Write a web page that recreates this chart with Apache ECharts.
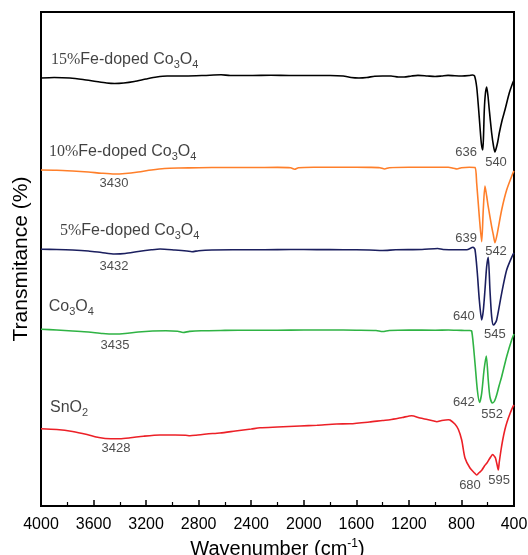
<!DOCTYPE html>
<html><head><meta charset="utf-8">
<script src="https://cdn.jsdelivr.net/npm/echarts/dist/echarts.min.js"></script>
<style>html,body{margin:0;padding:0;background:#fff}#c{width:528px;height:555px}</style>
</head><body><div id="c"></div>
<script>
// Wavenumber axis ticks
const xTicks = [4000, 3600, 3200, 2800, 2400, 2000, 1600, 1200, 800, 400];
// Series names
const seriesNames = ['15%Fe-doped Co3O4', '10%Fe-doped Co3O4', '5%Fe-doped Co3O4', 'Co3O4', 'SnO2'];
const seriesColors = ['#000000', '#ff7f2a', '#1b1f5f', '#2fb344', '#ec2027'];

// Offset transmittance [wavenumber, value]
const fe15 = [[4000,428],[3900,428.5],[3780,428],[3680,426.5],[3580,424.5],[3500,423],[3440,422.5],[3370,423],[3290,424.5],[3200,427],[3120,429],[3040,430],[2900,430],[2760,430.5],[2630,431.2],[2560,430.5],[2400,430.5],[2250,430.8],[2100,430.5],[1950,430.5],[1800,430.5],[1700,430],[1640,428.5],[1580,428],[1520,428.5],[1460,429.8],[1400,430],[1336,430],[1280,429],[1237,429],[1180,430],[1131,430.6],[1060,430],[1001,429.5],[950,430],[902,430.6],[850,430.2],[796,430],[740,430.5],[715,431],[700,430],[684,419],[670,398],[659,379],[648,362],[638,356],[632,370],[626,396],[618,412],[608,419],[598,410],[588,396],[570,373],[556,360],[545,354],[535,358],[524,364],[512,373],[490,386],[469,396],[436,413],[410,423],[400,426]];
const fe10 = [[4000,336],[3880,335.8],[3760,335],[3640,334],[3540,332.8],[3440,332],[3360,332.5],[3260,334],[3160,336],[3060,337.5],[2950,338],[2800,338.3],[2600,338.5],[2400,338.5],[2200,338.6],[2100,338.2],[2070,336.8],[2040,338.3],[1900,338.7],[1700,338.8],[1500,338.6],[1420,338.3],[1385,337],[1350,338.3],[1200,338.8],[1000,338.8],[900,338.8],[860,337.8],[834,337],[800,338.3],[740,338.8],[697,338.5],[684,322.7],[664,289.3],[646,264.3],[634,296],[621,320],[608,310],[596,299.3],[570,279.3],[557,271],[545,263.3],[527,272.7],[494,296],[456,316],[408,333],[400,335]];
const fe5 = [[4000,256.7],[3880,256.5],[3760,256],[3640,255],[3540,253.5],[3440,252],[3360,252.5],[3260,254.5],[3160,256.2],[3094,257],[2980,256],[2890,255],[2851,254.3],[2800,255.3],[2700,256],[2500,256.2],[2300,256.3],[2100,256.5],[1900,256.4],[1700,256.3],[1500,256],[1400,255.5],[1300,256.2],[1100,256.5],[980,257.5],[940,256.5],[850,256.3],[760,256.2],[712,258.7],[697,256.5],[679,232.7],[664,206],[646,186],[634,195],[621,216],[608,239.3],[596,248.7],[583,216],[570,189.3],[557,181],[545,182.5],[532,186],[494,212.7],[456,236],[410,251],[400,253]];
const co3o4 = [[4000,176.7],[3880,176],[3760,175],[3640,174],[3530,172.5],[3440,172],[3360,172.5],[3260,174],[3150,175],[3050,175.3],[2960,174.8],[2919,173.5],[2870,174.6],[2780,175.3],[2600,175.6],[2400,175.8],[2200,175.8],[2000,176],[1800,176],[1600,175.8],[1450,175.5],[1400,174.5],[1350,175.5],[1200,176],[1000,175.8],[900,176],[800,175.6],[740,175.5],[722,175],[697,143],[679,116],[662,103.5],[646,112.7],[628,136],[611,150],[596,126],[583,109],[564,103],[548,105],[532,111],[514,120],[494,129.3],[456,149.3],[418,166],[400,172]];
const sno2 = [[4000,77.3],[3880,76.5],[3760,74.5],[3650,71.5],[3560,68.5],[3470,67.3],[3400,67.3],[3320,68.2],[3220,69.8],[3094,71],[2980,71],[2900,70.8],[2866,70.3],[2820,70.8],[2740,72],[2638,73],[2520,75],[2400,77],[2333,78.2],[2200,79],[2029,80],[1900,80.8],[1750,82],[1648,82.2],[1500,84],[1400,85.5],[1344,86.2],[1250,88.5],[1179,90.3],[1115,88],[1060,86.5],[1010,85],[988,84.3],[950,85.5],[900,86.3],[887,86],[850,82],[824,76.7],[798,66],[773,48],[735,38],[700,33],[684,31],[664,33.5],[644,36],[625,40],[606,43],[585,47.5],[562,51.5],[548,49.5],[541,48],[530,42],[520,36],[512,44],[500,55],[486,66],[470,76],[453,84],[430,92.5],[408,99.3],[400,101]];
const seriesData = [fe15, fe10, fe5, co3o4, sno2];

// Peak annotation texts and their anchors (data coordinates)
const peakTexts = ['636','540','639','542','640','545','642','552','680','595','3430','3432','3435','3428'];
const peakAnchors = [[765,354],[537,344],[765,268],[537,255],[781,190],[545,172],[781,104],[567,92],[735,21],[514,26],[3444,323],[3444,240],[3437,161],[3429,58]];
// Series-name anchors (data coordinates, left edge)
const nameAnchors = [[3932,446],[3947,354],[3863,275],[3949,199],[3939,98]];

const nameRich = [
  '{n|15%}{t|Fe-doped Co}{s|3}{t|O}{s|4}',
  '{n|10%}{t|Fe-doped Co}{s|3}{t|O}{s|4}',
  '{n|5%}{t|Fe-doped Co}{s|3}{t|O}{s|4}',
  '{t|Co}{s|3}{t|O}{s|4}',
  '{t|SnO}{s|2}'
];

const chart = echarts.init(document.getElementById('c'), null, {renderer: 'canvas'});
const series = seriesData.map((d, i) => ({
  name: seriesNames[i], type: 'line', data: d, showSymbol: false, smooth: 0.25,
  lineStyle: {color: seriesColors[i], width: 1.6}, itemStyle: {color: seriesColors[i]}, z: 3
}));
series.push({
  type: 'scatter', symbolSize: 2, itemStyle: {color: 'rgba(0,0,0,0)'}, silent: true, z: 5,
  data: peakAnchors.map((p, i) => ({value: p, name: peakTexts[i]})),
  label: {show: true, position: 'inside', formatter: p => p.name, color: '#222',
    fontFamily: 'Liberation Sans, Arial, sans-serif', fontSize: 13}
});
series.push({
  type: 'scatter', symbolSize: 2, itemStyle: {color: 'rgba(0,0,0,0)'}, silent: true, z: 5,
  data: nameAnchors.map((p, i) => ({value: p, name: nameRich[i]})),
  label: {show: true, position: 'right', distance: 0, formatter: p => p.name,
    rich: {
      n: {fontFamily: 'Liberation Serif, Times New Roman, serif', fontSize: 16, color: '#111', lineHeight: 20},
      t: {fontFamily: 'Liberation Sans, Arial, sans-serif', fontSize: 16, color: '#111', lineHeight: 20},
      s: {fontFamily: 'Liberation Sans, Arial, sans-serif', fontSize: 11, color: '#111', lineHeight: 13, verticalAlign: 'bottom'}
    }}
});

chart.setOption({
  animation: false,
  backgroundColor: '#fff',
  grid: {left: 41, right: 14, top: 12, bottom: 49, containLabel: false, outerBoundsMode: 'none',
    show: true, borderColor: '#000', borderWidth: 2, backgroundColor: 'transparent'},
  xAxis: {
    type: 'value', min: 400, max: 4000, interval: 400, inverse: true,
    axisLine: {show: true, lineStyle: {color: '#000', width: 2}},
    axisTick: {show: true, inside: true, length: 6, lineStyle: {color: '#000', width: 1.5}},
    minorTick: {show: true, splitNumber: 2, length: 4, lineStyle: {color: '#000', width: 1.2}},
    splitLine: {show: false}, minorSplitLine: {show: false},
    axisLabel: {color: '#000', fontSize: 16, fontFamily: 'Liberation Sans, Arial, sans-serif', margin: 11,
      showMinLabel: true, showMaxLabel: true, formatter: v => xTicks.includes(v) ? String(v) : ''},
    name: '{a|Wavenumber (cm}{b|-1}{a|)}', nameLocation: 'middle', nameGap: 27,
    nameTextStyle: {rich: {
      a: {fontSize: 20, fontFamily: 'Liberation Sans, Arial, sans-serif', color: '#000', lineHeight: 24},
      b: {fontSize: 12, fontFamily: 'Liberation Sans, Arial, sans-serif', color: '#000', verticalAlign: 'top', lineHeight: 14}
    }}
  },
  yAxis: {
    type: 'value', min: 0, max: 494,
    axisLine: {show: true, lineStyle: {color: '#000', width: 2}},
    axisTick: {show: false}, axisLabel: {show: false}, splitLine: {show: false},
    name: 'Transmitance (%)', nameLocation: 'middle', nameGap: 9,
    nameTextStyle: {fontSize: 21, fontFamily: 'Liberation Sans, Arial, sans-serif', color: '#000'}
  },
  series: series
});
</script>
</body></html>
